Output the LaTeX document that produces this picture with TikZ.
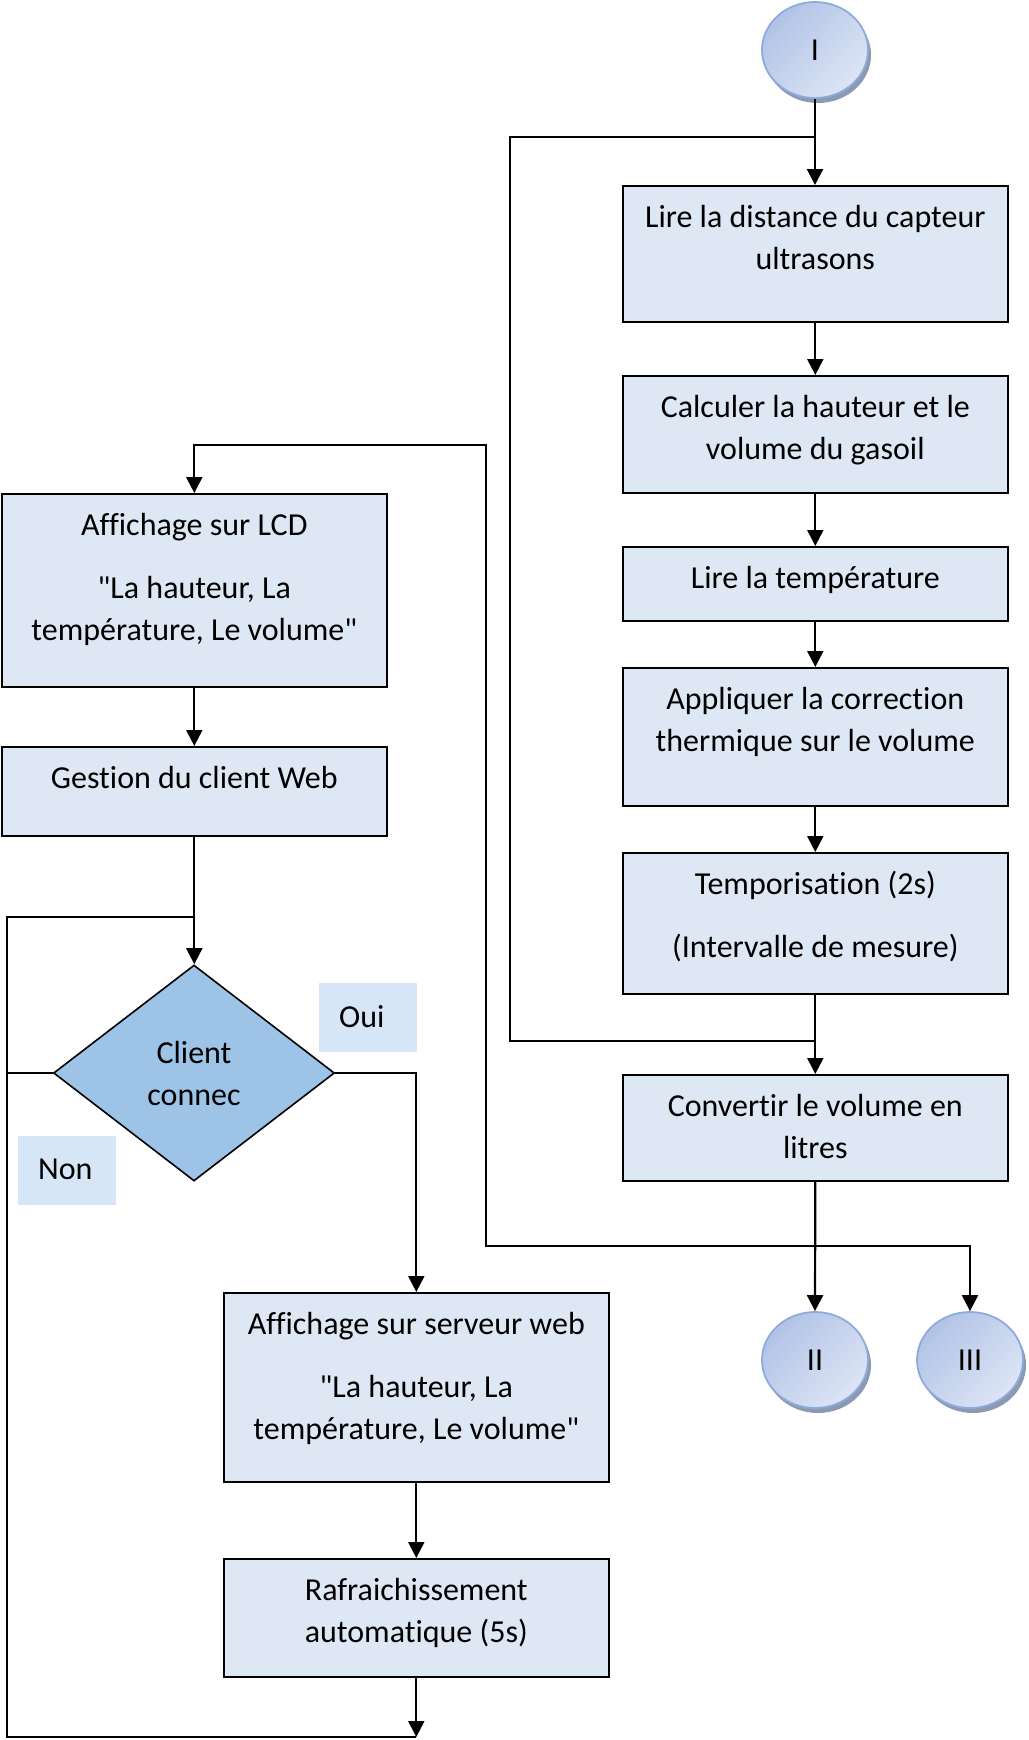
\documentclass[tikz,border=0pt]{standalone}
\usepackage{fontspec}
\setmainfont{Carlito}[Ligatures={TeXOff,NoCommon}]
\usetikzlibrary{arrows.meta,shapes.geometric}

\definecolor{boxfill}{HTML}{DEE8F5}
\definecolor{decfill}{HTML}{9DC3E6}
\definecolor{tagfill}{HTML}{D7E6F6}
\definecolor{termedge}{HTML}{8FAADC}
\definecolor{termdark}{HTML}{B1C3E6}
\definecolor{termlight}{HTML}{DDE5F5}
\definecolor{termshadow}{HTML}{8C99B3}

\newcommand{\flowfont}{\fontsize{32}{42}\selectfont}
% top-aligned text block of a given height inside a process box
\newcommand{\boxlines}[2]{\parbox[c][#1][t]{385pt}{\centering\vspace*{12pt}\strut #2}}
% left-padded caption inside a branch tag
\newcommand{\tagtext}[1]{\parbox{98pt}{\hspace*{20pt}\raisebox{3pt}{#1}}}

\tikzset{
  proc/.style={draw, line width=1.6pt, fill=boxfill, inner sep=0pt,
    anchor=north west, font=\flowfont},
  term/.style={ellipse, draw=termedge, line width=1.8pt, minimum width=106pt,
    minimum height=96pt, inner sep=0pt, left color=termdark, right color=termlight,
    shading angle=45, font=\flowfont,
    preaction={fill=termshadow, transform canvas={shift={(3pt,-5pt)}}}},
  dec/.style={diamond, draw, line width=1.6pt, fill=decfill, aspect=1.3,
    minimum width=281pt, minimum height=216pt, inner sep=0pt, align=center,
    font=\flowfont},
  tag/.style={fill=tagfill, inner sep=0pt, minimum width=98pt, minimum height=69pt,
    anchor=north west, font=\flowfont},
  flow/.style={line width=2.2pt, -{Triangle[length=16pt,width=16pt]}},
  link/.style={line width=2.2pt}
}

\begin{document}
\begin{tikzpicture}[x=1pt,y=-1pt]
\useasboundingbox (0,0) rectangle (1028,1740);

% ---- measurement loop (right column)
\node[term] (I) at (815,50) {I};
\node[proc] (b1) at (622,185) {\boxlines{136pt}{Lire la distance du capteur\\ultrasons}};
\node[proc] (b2) at (622,375) {\boxlines{117pt}{Calculer la hauteur et le\\volume du gasoil}};
\node[proc] (b3) at (622,546) {\boxlines{74pt}{Lire la température}};
\node[proc] (b4) at (622,667) {\boxlines{138pt}{Appliquer la correction\\thermique sur le volume}};
\node[proc] (b5) at (622,852) {\boxlines{141pt}{Temporisation (2s)\\[21pt](Intervalle de mesure)}};
\node[proc] (b6) at (622,1074) {\boxlines{106pt}{Convertir le volume en\\litres}};
\node[term] (II) at (815,1360) {II};
\node[term] (III) at (970,1360) {III};

\draw[flow] (I.south) -- (I.south |- b1.north);
\draw[flow] (b1.south) -- (b2.north);
\draw[flow] (b2.south) -- (b3.north);
\draw[flow] (b3.south) -- (b4.north);
\draw[flow] (b4.south) -- (b5.north);
\draw[flow] (b5.south) -- (b6.north);
\coordinate (rloopbot) at (815,1041);
\coordinate (rlooptop) at (815,137);
\draw[link] (rloopbot) -- ++(-305,0) |- (rlooptop);

\draw[flow] (b6.south) -- (II.north);
\coordinate (split) at (815,1246);
\draw[flow] (split) -| (III.north);

% ---- display and web part (left column)
\node[proc] (lcd) at (1,493) {\boxlines{193pt}{Affichage sur LCD\\[21pt]"La hauteur, La\\température, Le volume"}};
\node[proc] (gest) at (1,746) {\boxlines{89pt}{Gestion du client Web}};
\node[dec] (dec) at (194,1073) {Client\\connec};
\node[proc] (serv) at (223,1292) {\boxlines{189pt}{Affichage sur serveur web\\[21pt]"La hauteur, La\\température, Le volume"}};
\node[proc] (raf) at (223,1558) {\boxlines{118pt}{Rafraichissement\\automatique (5s)}};
\node[tag] (oui) at (319,983) {\tagtext{Oui}};
\node[tag] (non) at (18,1136) {\tagtext{Non}};

\draw[flow] (split) -- (486,1246) -- (486,445) -| (lcd.north);
\draw[flow] (lcd.south) -- (gest.north);
\draw[flow] (gest.south) -- (gest.south |- dec.north);
\draw[flow] (dec.east) -| (serv.north);
\draw[flow] (serv.south) -- (raf.north);
\coordinate (lbot) at (raf.south |- 0,1737);
\draw[flow] (raf.south) -- (lbot);
\draw[link] (lbot) -- (7,1737) -- (7,917) -- (gest.south |- 0,917);
\draw[link] (dec.west) -- (7,1073);
\end{tikzpicture}
\end{document}
